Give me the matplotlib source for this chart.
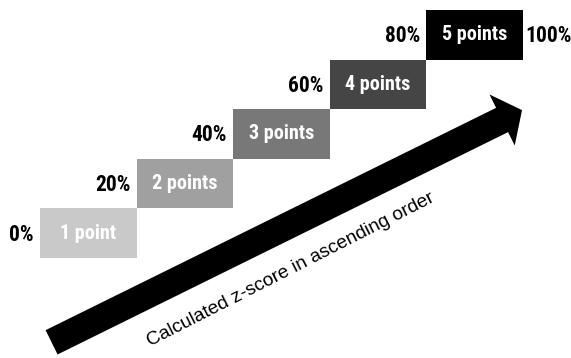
import matplotlib
matplotlib.use("Agg")
import matplotlib.pyplot as plt
from matplotlib.patches import FancyArrowPatch, ArrowStyle

# Межі процентилів і бали для кожного інтервалу
thresholds = [0, 20, 40, 60, 80, 100]
point_labels = ["1 point", "2 points", "3 points", "4 points", "5 points"]
point_values = [1, 2, 3, 4, 5]
box_colors = ["#c9c9c9", "#a0a0a0", "#787878", "#454545", "#000000"]

arrow_label = "Calculated z-score in ascending order"

NARROW = ["Roboto Condensed", "Liberation Sans", "DejaVu Sans"]
SANS = ["Liberation Sans", "DejaVu Sans"]


def draw_steps(ax):
    # Сходинки: кожен бал займає свій інтервал процентилів
    lefts = thresholds[:-1]
    widths = [b - a for a, b in zip(thresholds[:-1], thresholds[1:])]
    bottoms = [v - 1 for v in point_values]
    bars = ax.bar(lefts, [1] * len(lefts), width=widths, bottom=bottoms,
                  align="edge", color=box_colors, edgecolor="none")

    for bar, label in zip(bars, point_labels):
        cx = bar.get_x() + bar.get_width() / 2
        cy = bar.get_y() + bar.get_height() / 2
        ax.text(cx, cy, label, ha="center", va="center", color="white",
                fontsize=14.5, family=NARROW, weight="bold")

    # Підписи процентилів зліва від кожної сходинки
    for bar, pct in zip(bars, thresholds[:-1]):
        cy = bar.get_y() + bar.get_height() / 2
        ax.annotate(f"{pct}%", (bar.get_x(), cy), xytext=(-4.5, -1),
                    textcoords="offset points", ha="right", va="center",
                    fontsize=15.5, family=NARROW, weight="bold",
                    color="black")

    last = bars[-1]
    ax.annotate(f"{thresholds[-1]}%",
                (last.get_x() + last.get_width(), last.get_y() + 0.5),
                xytext=(1.5, -1), textcoords="offset points", ha="left",
                va="center", fontsize=15.5, family=NARROW, weight="bold",
                color="black")


def draw_arrow(ax):
    # Велика стрілка зростання z-оцінки
    style = ArrowStyle.Simple(head_length=16, head_width=41, tail_width=19.5)
    arrow = FancyArrowPatch((2.4, -1.7), (99.8, 2.98), arrowstyle=style,
                            mutation_scale=1, color="black",
                            shrinkA=0, shrinkB=0, linewidth=0)
    ax.add_patch(arrow)
    ax.text(52.0, -0.24, arrow_label, rotation=27, rotation_mode="anchor",
            ha="center", va="center", fontsize=13.8, family=SANS,
            color="black")


def main():
    fig = plt.figure(figsize=(5.71, 3.58), dpi=100)
    ax = fig.add_axes([0, 0, 1, 1])
    ax.set_xlim(-8.28, 109.94)
    ax.set_ylim(-2.016, 5.2)
    ax.axis("off")

    draw_steps(ax)
    draw_arrow(ax)

    fig.savefig("out.png", dpi=100, facecolor="white")


if __name__ == "__main__":
    main()
